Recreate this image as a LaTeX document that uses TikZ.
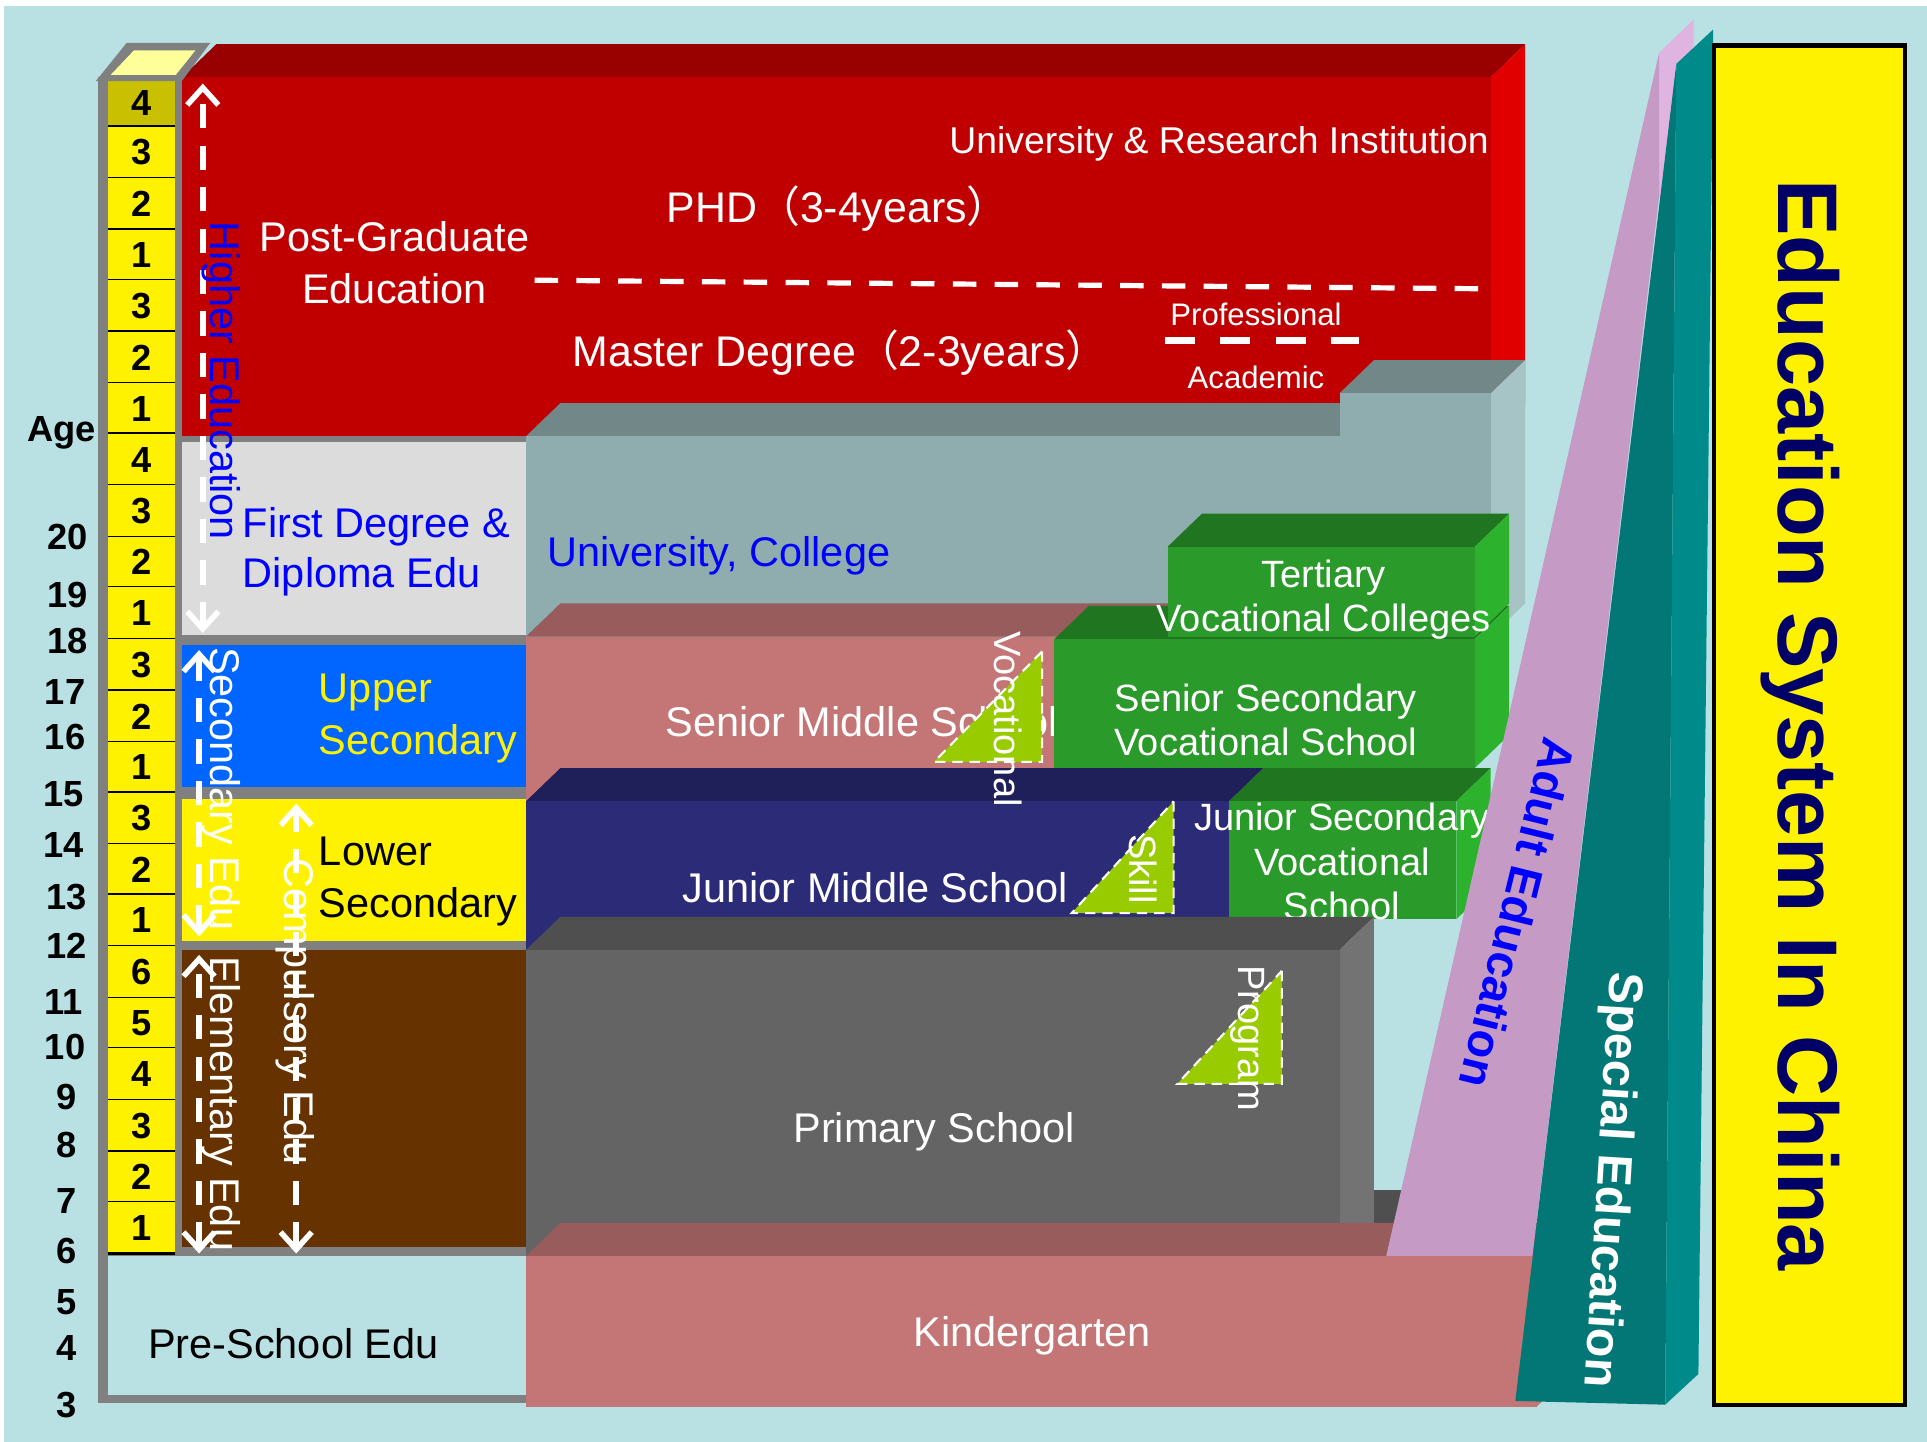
\documentclass[tikz,border=0pt]{standalone}
\usepackage{fontspec}
\setmainfont{Liberation Sans}
\newfontfamily\cjk{Noto Sans CJK SC}
\usetikzlibrary{positioning,arrows.meta}
\definecolor{bgcyan}{HTML}{B9E0E3}
\definecolor{framegray}{HTML}{808080}
\definecolor{pgred}{HTML}{C00000}
\definecolor{pgredtop}{HTML}{990000}
\definecolor{pgredside}{HTML}{E00000}
\definecolor{firstgray}{HTML}{DCDCDC}
\definecolor{unifront}{HTML}{8FADAE}
\definecolor{unitop}{HTML}{728888}
\definecolor{uniside}{HTML}{A6C3C5}
\definecolor{senfront}{HTML}{C47676}
\definecolor{sentop}{HTML}{985C5C}
\definecolor{vocfront}{HTML}{2A9A2A}
\definecolor{voctop}{HTML}{207520}
\definecolor{vocside}{HTML}{2DB22D}
\definecolor{junfront}{HTML}{2B2B77}
\definecolor{juntop}{HTML}{1F1F5A}
\definecolor{prifront}{HTML}{646464}
\definecolor{pritop}{HTML}{4F4F4F}
\definecolor{priside}{HTML}{737373}
\definecolor{elembrown}{HTML}{663300}
\definecolor{upperblue}{HTML}{0066FF}
\definecolor{darkyellow}{HTML}{C8C000}
\definecolor{paleyellow}{HTML}{FFFF99}
\definecolor{skillgreen}{HTML}{99CC00}
\definecolor{adultlilac}{HTML}{C59BC5}
\definecolor{adultpink}{HTML}{E0B4E0}
\definecolor{specfront}{HTML}{037676}
\definecolor{specside}{HTML}{018A8A}
\definecolor{titlenavy}{HTML}{000066}
\tikzstyle{boxtext}=[inner sep=0pt,font=\fontsize{12}{15}\selectfont]
\tikzstyle{greentext}=[inner sep=0pt,align=center,text=white,font=\fontsize{11}{12.8}\selectfont]
\tikzstyle{sidetext}=[boxtext,rotate=-90]
\tikzstyle{tiptext}=[inner sep=0pt,rotate=-90,text=white,font=\fontsize{11}{13}\selectfont]
\tikzstyle{cellnum}=[inner sep=0pt,font=\fontsize{10.5}{12}\selectfont\bfseries]
\tikzstyle{spanarrow}=[white,line width=1.6pt,dash pattern=on 7pt off 5pt,
  {Straight Barb[length=5pt,width=9pt]}-{Straight Barb[length=5pt,width=9pt]}]
\tikzstyle{divline}=[white,line width=1.5pt,dash pattern=on 6.8pt off 5.3pt]
\tikzstyle{tipline}=[white,line width=0.6pt,densely dashed]
% front face, then top and side faces shifted back
\newcommand{\newBlock}[7]{%
  \fill[#6] (#1,#2) -- ++(28,-27) -- (#3+28,#2-27) -- (#3,#2) -- cycle;
  \fill[#7] (#3,#2) -- ++(28,-27) -- (#3+28,#4-27) -- (#3,#4) -- cycle;
  \fill[#5] (#1,#2) rectangle (#3,#4);}
\newcommand{\newCell}[5]{%
  \fill[#5] (88,#3) rectangle (142,#4);
  \draw[black,line width=0.8pt] (88,#4) -- (142,#4);
  \node[cellnum] (#1) at (115,{(#3+#4)/2}) {#2};}
\newcommand{\newTip}[4]{%
  \fill[skillgreen] (#1,#2) -- (#1,#3) -- (#4,#3) -- cycle;
  \draw[tipline] (#1,#2) -- (#1,#3) -- (#4,#3) -- cycle;}

\begin{document}
\begin{tikzpicture}[x=0.0125cm,y=-0.0125cm]
  \useasboundingbox (0,0) rectangle (1568,1173);
  \fill[white] (0,0) rectangle (1568,1173);
  \fill[bgcyan] (3,5) rectangle (1568,1173);

  % age column and left frame
  \fill[framegray] (80,63) rectangle (428,1142);
  \newCell{pg4}{4}{65}{103}{darkyellow}
  \newCell{pg3}{3}{103}{145}{yellow}
  \newCell{pg2}{2}{145}{187}{yellow}
  \newCell{pg1}{1}{187}{228}{yellow}
  \newCell{ms3}{3}{228}{270}{yellow}
  \newCell{ms2}{2}{270}{312}{yellow}
  \newCell{ms1}{1}{312}{353}{yellow}
  \newCell{ug4}{4}{353}{395}{yellow}
  \newCell{ug3}{3}{395}{437}{yellow}
  \newCell{ug2}{2}{437}{478}{yellow}
  \newCell{ug1}{1}{478}{520}{yellow}
  \newCell{us3}{3}{520}{562}{yellow}
  \newCell{us2}{2}{562}{604}{yellow}
  \newCell{us1}{1}{604}{645}{yellow}
  \newCell{ls3}{3}{645}{687}{yellow}
  \newCell{ls2}{2}{687}{728}{yellow}
  \newCell{ls1}{1}{728}{770}{yellow}
  \newCell{el6}{6}{770}{812}{yellow}
  \newCell{el5}{5}{812}{853}{yellow}
  \newCell{el4}{4}{853}{895}{yellow}
  \newCell{el3}{3}{895}{937}{yellow}
  \newCell{el2}{2}{937}{978}{yellow}
  \newCell{el1}{1}{978}{1020}{yellow}

  \node[cellnum] (ageHead) at (50,352) {Age};
  \node[cellnum] (age20) at (55,437) {20};
  \node[cellnum] (age19) at (55,484) {19};
  \node[cellnum] (age18) at (55,522) {18};
  \node[cellnum] (age17) at (53,563) {17};
  \node[cellnum] (age16) at (53,600) {16};
  \node[cellnum] (age15) at (52,646) {15};
  \node[cellnum] (age14) at (52,688) {14};
  \node[cellnum] (age13) at (54,730) {13};
  \node[cellnum] (age12) at (54,770) {12};
  \node[cellnum] (age11) at (52,815) {11};
  \node[cellnum] (age10) at (53,852) {10};
  \node[cellnum] (age9) at (54,893) {9};
  \node[cellnum] (age8) at (54,932) {8};
  \node[cellnum] (age7) at (54,977) {7};
  \node[cellnum] (age6) at (54,1018) {6};
  \node[cellnum] (age5) at (54,1060) {5};
  \node[cellnum] (age4) at (54,1097) {4};
  \node[cellnum] (age3) at (54,1143) {3};

  % post-graduate block
  \newBlock{148}{63}{1213}{355}{pgred}{pgredtop}{pgredside}
  \fill[framegray] (78,66) -- (103,35) -- (171,35) -- (148,66) -- cycle;
  \fill[paleyellow] (90,61) -- (109,41) -- (159,41) -- (143,61) -- cycle;
  \node[boxtext,anchor=east,text=white,font=\fontsize{10.8}{13}\selectfont] (uniRes) at (1212,117) {University \& Research Institution};
  \node[boxtext,text=white,font=\fontsize{12.4}{15}\selectfont] (phd) at (682,170) {PHD{\cjk （}3-4years{\cjk ）}};
  \node[boxtext,text=white,align=center] (pgEdu) at (321,214) {Post-Graduate\\Education};
  \node[boxtext,text=white,font=\fontsize{12.4}{15}\selectfont] (master) at (684,287) {Master Degree{\cjk （}2-3years{\cjk ）}};
  \node[boxtext,text=white,font=\fontsize{9}{11}\selectfont] (professional) at (1022,256) {Professional};
  \node[boxtext,text=white,font=\fontsize{9}{11}\selectfont] (academic) at (1022,307) {Academic};
  \coordinate (phdLeft) at (435,228);
  \coordinate (phdRight) at (1208,235);
  \draw[divline] (phdLeft) -- (phdRight);
  \coordinate (profLeft) at (948,277);
  \coordinate (profRight) at (1106,277);
  \draw[divline,line width=2.1pt,dash pattern=on 8.7pt off 7.3pt] (profLeft) -- (profRight);

  % left column
  \fill[firstgray] (148,360) rectangle (428,517);
  \fill[upperblue] (148,525) rectangle (428,640);
  \fill[yellow] (148,650) rectangle (428,766);
  \fill[elembrown] (148,773) rectangle (428,1015);
  \fill[bgcyan] (88,1022) rectangle (428,1135);
  \node[boxtext,anchor=west,align=left,text=blue,font=\fontsize{12}{14.6}\selectfont] (firstDeg) at (197,449) {First Degree \&\\Diploma Edu};
  \node[boxtext,anchor=west,align=left,text=yellow] (upperSec) at (259,585) {Upper\\Secondary};
  \node[boxtext,anchor=west,align=left] (lowerSec) at (259,717) {Lower\\Secondary};
  \node[boxtext,anchor=west] (preSchool) at (120,1093) {Pre-School Edu};

  % university, college
  \newBlock{428}{355}{1213}{518}{unifront}{unitop}{uniside}
  \newBlock{1090}{320}{1213}{360}{unifront}{unitop}{uniside}
  \node[boxtext,anchor=west,text=blue] (uniCollege) at (445,452) {University, College};

  % senior middle and vocational
  \newBlock{428}{518}{950}{652}{senfront}{sentop}{senfront}
  \node[boxtext,anchor=west,text=white] (senMiddle) at (541,587) {Senior Middle School};
  \newBlock{858}{520}{1200}{625}{vocfront}{voctop}{vocside}
  \node[greentext] (senVoc) at (1030,586) {Senior Secondary\\Vocational School};
  \newBlock{950}{445}{1200}{518}{vocfront}{voctop}{vocside}
  \node[greentext] (tertiary) at (1077,488) {Tertiary\\Vocational Colleges};

  % junior middle and vocational
  \newBlock{428}{652}{1000}{773}{junfront}{juntop}{junfront}
  \node[boxtext,anchor=west,text=white] (junMiddle) at (555,722) {Junior Middle School};
  \newBlock{1000}{652}{1185}{748}{vocfront}{voctop}{vocside}
  \node[greentext] (junVoc) at (1092,701) {Junior Secondary\\Vocational\\School};

  % primary and kindergarten
  \newBlock{428}{773}{1090}{1022}{prifront}{pritop}{priside}
  \fill[pritop] (1118,968) rectangle (1140,995);
  \node[boxtext,text=white] (primary) at (760,921) {Primary School};
  \newBlock{428}{1022}{1250}{1145}{senfront}{sentop}{senfront}
  \node[boxtext,text=white] (kinder) at (840,1087) {Kindergarten};

  % adult and special education
  \fill[adultpink] (1350,43) -- (1378,16) -- (1378,160) -- (1350,160) -- cycle;
  \fill[adultlilac] (1128,1022) -- (1350,43) -- (1350,160) -- (1247,1022) -- cycle;
  \fill[specfront] (1364,52) -- (1233,1140) -- (1355,1143) -- cycle;
  \fill[specside] (1364,52) -- (1394,24) -- (1382,1118) -- (1355,1143) -- cycle;
  \node[inner sep=0pt,rotate=-103.9,text=blue,font=\fontsize{13.5}{15}\selectfont\bfseries] (adultEdu) at (1235,743) {Adult Education};
  \node[inner sep=0pt,rotate=-93.5,text=white,font=\fontsize{14}{16}\selectfont\bfseries] (specEdu) at (1310,960) {Special Education};

  % title
  \draw[black,line width=1.2pt,fill=yellow] (1395,37) rectangle (1550,1143);
  \node[inner sep=0pt,rotate=-90,text=titlenavy,font=\fontsize{24.5}{28}\selectfont\bfseries] (title) at (1465,590) {Education System In China};

  % skill triangles
  \newTip{848}{530}{620}{760}
  \newTip{955}{652}{743}{872}
  \newTip{1043}{790}{882}{958}
  \node[tiptext] (vocational) at (820,585) {Vocational};
  \node[tiptext] (skill) at (930,707) {Skill};
  \node[tiptext] (program) at (1015,845) {Program};

  % stages along the age column
  \coordinate (higherTop) at (165,68);
  \coordinate (higherBot) at (165,515);
  \draw[spanarrow] (higherBot) -- (higherTop);
  \coordinate (secTop) at (162,529);
  \coordinate (secBot) at (162,762);
  \draw[spanarrow] (secBot) -- (secTop);
  \coordinate (elemTop) at (162,777);
  \coordinate (elemBot) at (162,1020);
  \draw[spanarrow] (elemBot) -- (elemTop);
  \coordinate (compTop) at (241,654);
  \coordinate (compBot) at (241,1020);
  \draw[spanarrow] (compBot) -- (compTop);
  \node[sidetext,text=blue] (higherEdu) at (180,310) {Higher Education};
  \node[sidetext,text=white] (secEdu) at (180,642) {Secondary Edu};
  \node[sidetext,text=white] (elemEdu) at (180,898) {Elementary Edu};
  \node[sidetext,text=white] (compEdu) at (240,823) {Compulsory Edu};
\end{tikzpicture}
\end{document}
